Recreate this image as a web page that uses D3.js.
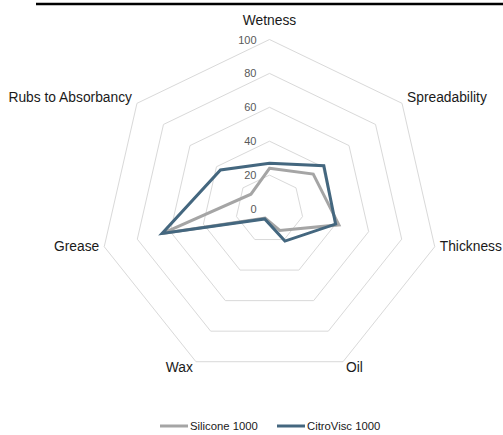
<!DOCTYPE html>
<html>
<head>
<meta charset="utf-8">
<script src="https://cdnjs.cloudflare.com/ajax/libs/d3/7.8.5/d3.min.js"></script>
<style>
	body { margin: 0; background: #fff; }
	svg { display: block; font-family: "Liberation Sans", Arial, sans-serif; }
</style>
</head>
<body>
<div id="chart"></div>
<script>
var axisNames = ["Wetness", "Spreadability", "Thickness", "Oil", "Wax", "Grease", "Rubs to Absorbancy"];
var seriesNames = ["Silicone 1000", "CitroVisc 1000"];
var siliconeValues = [24, 33, 42, 14, 6, 65, 14];
var citroViscValues = [27, 41, 40, 21, 6.5, 65, 37];
var tickValues = [0, 20, 40, 60, 80, 100];

function DrawRadar(selectid) {
	var width = 503, height = 435;
	var cx = 269.5, cy = 209, radius = 169.5;
	var colors = ["#a5a5a5", "#44677f"];

	var svg = d3.select("#" + selectid).append("svg")
		.attr("width", width)
		.attr("height", height);

	// thick rule across the top
	svg.append("line")
		.attr("x1", 36).attr("x2", 503)
		.attr("y1", 4).attr("y2", 4)
		.style("stroke", "#000")
		.style("stroke-width", 2.5);

	var r = d3.scaleLinear().domain([0, 100]).range([0, radius]);
	var angle = d3.scaleLinear().domain([0, axisNames.length]).range([0, 2 * Math.PI]);

	function pt(i, v) {
		var a = angle(i);
		return [cx + r(v) * Math.sin(a), cy - r(v) * Math.cos(a)];
	}

	var g = svg.append("g");

	// grid rings
	g.selectAll(".ring")
		.data(tickValues.filter(function(t) { return t > 0; }))
		.enter()
		.append("polygon")
		.attr("class", "ring")
		.attr("points", function(t) {
			return axisNames.map(function(n, i) { return pt(i, t).join(","); }).join(" ");
		})
		.style("fill", "none")
		.style("stroke", "#d9d9d9")
		.style("stroke-width", 1);

	// tick labels
	g.selectAll(".tick")
		.data(tickValues)
		.enter()
		.append("text")
		.attr("class", "tick")
		.attr("x", cx - 13)
		.attr("y", function(t) { return cy - r(t) + 4; })
		.attr("text-anchor", "end")
		.style("font-size", "11px")
		.style("fill", "#595959")
		.text(function(t) { return t; });

	// category labels
	g.selectAll(".cat")
		.data(axisNames)
		.enter()
		.append("text")
		.attr("class", "cat")
		.attr("x", function(d, i) {
			var p = pt(i, 100), s = Math.sin(angle(i));
			if (Math.abs(s) < 0.1) return p[0];
			var c = Math.cos(angle(i));
			var gap = c < -0.8 ? 3 : 5;
			return p[0] + (s > 0 ? gap : -gap);
		})
		.attr("y", function(d, i) {
			var p = pt(i, 100), c = Math.cos(angle(i));
			if (c > 0.9) return p[1] - 14.5;
			if (c > 0.5) return p[1] - 1.5;
			if (c > -0.5) return p[1] + 4.5;
			return p[1] + 10.5;
		})
		.attr("text-anchor", function(d, i) {
			var s = Math.sin(angle(i));
			if (Math.abs(s) < 0.1) return "middle";
			return s > 0 ? "start" : "end";
		})
		.style("font-size", "13.8px")
		.style("fill", "#1a1a1a")
		.text(function(d) { return d; });

	// series
	var series = [siliconeValues, citroViscValues];
	var line = d3.line()
		.x(function(d, i) { return pt(i, d)[0]; })
		.y(function(d, i) { return pt(i, d)[1]; })
		.curve(d3.curveLinearClosed);

	g.selectAll(".series")
		.data(series)
		.enter()
		.append("path")
		.attr("class", "series")
		.attr("d", function(d) { return line(d); })
		.style("fill", "none")
		.style("stroke", function(d, i) { return colors[i]; })
		.style("stroke-width", 3)
		.style("stroke-linejoin", "miter");

	// legend
	var legendX = [160, 277];
	var legend = svg.selectAll(".legend")
		.data(seriesNames)
		.enter()
		.append("g")
		.attr("class", "legend")
		.attr("transform", function(d, i) { return "translate(" + legendX[i] + ",426)"; });

	legend.append("line")
		.attr("x1", 0).attr("x2", 28)
		.attr("y1", 0).attr("y2", 0)
		.style("stroke", function(d, i) { return colors[i]; })
		.style("stroke-width", 3);

	legend.append("text")
		.attr("x", 30)
		.attr("y", 4)
		.style("font-size", "11.3px")
		.style("fill", "#1a1a1a")
		.text(function(d) { return d; });
}

DrawRadar("chart");
</script>
</body>
</html>
